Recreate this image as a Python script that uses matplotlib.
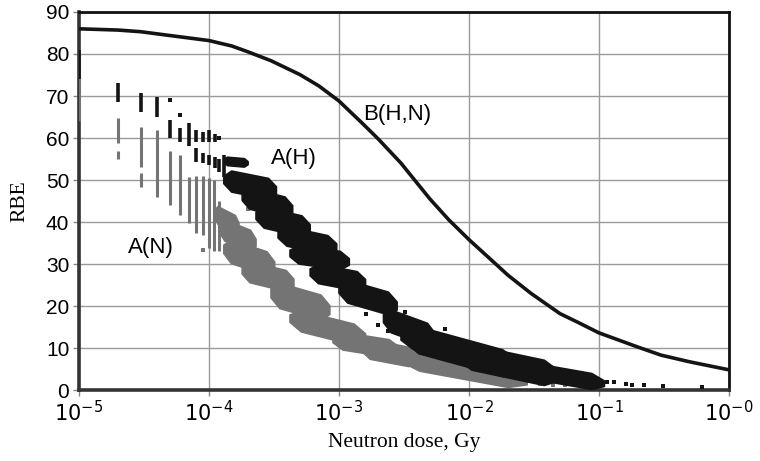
import matplotlib
matplotlib.use("Agg")
import math
import matplotlib.pyplot as plt

# ---------------- data ----------------
# B(H,N) curve
b_dose = [1e-5, 2e-5, 3e-5, 5e-5, 1e-4, 1.5e-4, 2e-4, 3e-4, 5e-4, 7e-4, 1e-3, 1.5e-3, 2e-3,
          3e-3, 5e-3, 7e-3, 1e-2, 2e-2, 3e-2, 5e-2, 7e-2, 1e-1, 2e-1, 3e-1, 5e-1, 1.0]
b_rbe = [86.0, 85.7, 85.3, 84.4, 83.2, 81.9, 80.5, 78.4, 75.1, 72.4, 68.8, 63.6, 59.8,
         54.0, 45.5, 40.5, 35.8, 27.3, 23.0, 18.2, 16.0, 13.6, 10.2, 8.3, 6.7, 4.8]

# A(H) (black) - vertical columns of points at discrete doses: dose, min RBE, max RBE
ah_col_dose = [1e-5, 2e-5, 3e-5, 4e-5, 5e-5, 6e-5, 7e-5, 8e-5, 8e-5, 9e-5, 9e-5,
               1e-4, 1e-4, 1.11e-4, 1.11e-4, 1.2e-4, 1.3e-4]
ah_col_lo = [74.0, 68.6, 66.2, 65.0, 60.0, 59.0, 58.0, 59.0, 54.3, 59.0, 54.0,
             59.0, 53.6, 59.0, 52.8, 52.0, 50.7]
ah_col_hi = [81.0, 73.0, 70.7, 69.8, 64.3, 62.4, 63.6, 62.0, 57.6, 61.4, 56.4,
             61.9, 56.0, 60.9, 55.5, 55.0, 56.0]

# A(H) dense clusters: dose range, RBE at start/end, RBE spread
ah_str_d0 = [1.3e-4, 1.3e-4, 1.8e-4, 2.3e-4, 3.4e-4, 4.2e-4, 6.0e-4, 1.0e-3, 2.2e-3, 3.0e-3, 8.0e-3, 2.5e-2]
ah_str_d1 = [2.0e-4, 3.3e-4, 4.4e-4, 6.0e-4, 9.6e-4, 1.2e-3, 1.6e-3, 2.8e-3, 5.5e-3, 2.5e-2, 5.0e-2, 1.1e-1]
ah_str_r0 = [54.5, 50.0, 46.0, 41.5, 37.0, 32.5, 28.0, 24.0, 17.0, 13.0, 8.5, 5.0]
ah_str_r1 = [54.0, 47.5, 43.0, 38.5, 34.0, 30.5, 25.5, 20.0, 12.5, 5.2, 3.3, 1.5]
ah_str_sp = [2.0, 5.0, 5.0, 5.0, 4.6, 4.4, 4.6, 5.4, 5.4, 6.4, 6.0, 3.8]

# A(H) stray points
ah_pt_dose = [5e-5, 6e-5, 1.2e-4, 1.55e-4, 2.6e-4, 3.0e-4, 4.6e-4, 7.5e-4, 8.5e-4, 1.25e-3,
              1.6e-3, 2.0e-3, 2.4e-3, 3.2e-3, 6.5e-3, 1.15e-1, 1.3e-1, 1.6e-1, 1.8e-1,
              2.2e-1, 3.1e-1, 6.2e-1]
ah_pt_rbe = [69.0, 65.5, 60.0, 51.5, 44.5, 48.0, 36.0, 31.5, 26.5, 21.5,
             18.0, 15.5, 14.0, 18.5, 14.5, 2.0, 1.8, 1.5, 1.2, 1.2, 1.0, 0.8]

# A(N) (grey) - vertical columns
an_col_dose = [1e-5, 2e-5, 2e-5, 3e-5, 3e-5, 4e-5, 5e-5, 6e-5, 7e-5, 8e-5, 9e-5,
               1e-4, 1.1e-4, 1.2e-4]
an_col_lo = [64.0, 58.8, 55.0, 53.0, 48.3, 46.0, 44.0, 41.7, 39.8, 37.4, 37.0,
             33.8, 33.0, 33.0]
an_col_hi = [74.5, 64.8, 57.0, 62.6, 51.6, 62.0, 57.0, 56.0, 50.7, 51.0, 50.9,
             50.5, 50.0, 45.0]

# A(N) dense clusters
an_str_d0 = [1.1e-4, 1.2e-4, 1.3e-4, 1.8e-4, 3.0e-4, 4.2e-4, 9e-4, 1.5e-3, 3.0e-3]
an_str_d1 = [1.7e-4, 2.3e-4, 3.2e-4, 4.5e-4, 8.5e-4, 1.6e-3, 2.9e-3, 4.0e-3, 2.8e-2]
an_str_r0 = [42.0, 38.5, 33.5, 28.5, 23.0, 17.0, 12.0, 10.0, 7.5]
an_str_r1 = [39.0, 35.0, 29.5, 25.5, 19.0, 12.5, 9.5, 7.5, 2.0]
an_str_sp = [4.2, 5.0, 5.6, 5.0, 6.0, 5.0, 4.2, 4.6, 4.4]

# A(N) stray points
an_pt_dose = [9e-5, 1.5e-4, 2.0e-4, 3.6e-4, 6.0e-4, 1.1e-3, 2.2e-3, 3.5e-2, 4.4e-2,
              5.5e-2, 6.6e-2, 8.1e-2]
an_pt_rbe = [33.3, 49.5, 43.0, 27.5, 19.0, 14.5, 11.0, 1.5, 1.2, 1.3, 1.2, 1.0]

x_ticks = [1e-5, 1e-4, 1e-3, 1e-2, 1e-1, 1.0]
x_labels = ["-5", "-4", "-3", "-2", "-1", "-0"]
y_ticks = [0, 10, 20, 30, 40, 50, 60, 70, 80, 90]

# ---------------- style ----------------
plt.rcParams["mathtext.fontset"] = "custom"
plt.rcParams["mathtext.rm"] = "Liberation Sans"
plt.rcParams["mathtext.it"] = "Liberation Sans:italic"
plt.rcParams["mathtext.bf"] = "Liberation Sans:bold"

BLACK = "#141414"
GREY = "#747474"

fig = plt.figure(figsize=(7.6, 4.61), dpi=100)
ax = fig.add_axes([79 / 760, 71 / 461, 650 / 760, 378 / 461])
ax.set_xscale("log")
ax.set_xlim(1e-5, 1.0)
ax.set_ylim(0, 90)

ax.grid(True, which="major", color="#9a9a9a", linewidth=1.0)
ax.minorticks_off()
ax.set_axisbelow(True)

# outline of a cluster: tapered band between its start and end (shape only)
T = [0.0, 0.15, 0.85, 1.0]
W = [0.35, 1.0, 1.0, 0.35]


def draw_streaks(d0, d1, r0, r1, sp, color):
    for a, b, ya, yb, s in zip(d0, d1, r0, r1, sp):
        la, lb = math.log10(a), math.log10(b)
        xs = [10 ** (la + t * (lb - la)) for t in T]
        yc = [ya + t * (yb - ya) for t in T]
        up = [c + w * s / 2 for c, w in zip(yc, W)]
        lo = [c - w * s / 2 for c, w in zip(yc, W)]
        ax.fill(xs + xs[::-1], up + lo[::-1], facecolor=color, edgecolor=color,
                linewidth=1.2, joinstyle="round", zorder=3)


# grey series first (behind black)
ax.vlines(an_col_dose, an_col_lo, an_col_hi, color=GREY, linewidth=2.2, zorder=3)
draw_streaks(an_str_d0, an_str_d1, an_str_r0, an_str_r1, an_str_sp, GREY)
ax.scatter(an_pt_dose, an_pt_rbe, marker="s", s=6, color=GREY, linewidths=0, zorder=3)

ax.vlines(ah_col_dose, ah_col_lo, ah_col_hi, color=BLACK, linewidth=2.6, zorder=4)
draw_streaks(ah_str_d0, ah_str_d1, ah_str_r0, ah_str_r1, ah_str_sp, BLACK)
ax.scatter(ah_pt_dose, ah_pt_rbe, marker="s", s=7, color=BLACK, linewidths=0, zorder=4)

ax.plot(b_dose, b_rbe, color=BLACK, linewidth=2.6, zorder=5, solid_joinstyle="round")

ax.text(2.8e-3, 65.5, "B(H,N)", fontsize=16, family="Liberation Sans",
        ha="center", va="center", zorder=6)
ax.text(4.5e-4, 55.2, "A(H)", fontsize=16, family="Liberation Sans",
        ha="center", va="center", zorder=6)
ax.text(3.6e-5, 34.0, "A(N)", fontsize=16, family="Liberation Sans",
        ha="center", va="center", zorder=6)

ax.set_xticks(x_ticks)
ax.set_xticklabels([r"$\mathregular{10^{%s}}$" % s.replace("-", "\u2212") for s in x_labels],
                   fontsize=15)
ax.set_yticks(y_ticks)
ax.set_yticklabels([str(v) for v in y_ticks], fontsize=15, family="Liberation Sans")
ax.tick_params(axis="both", direction="out", length=4, width=1, color="#888888", pad=3)

for side in ["top", "right"]:
    ax.spines[side].set_linewidth(2.0)
    ax.spines[side].set_color("#111111")
for side in ["left", "bottom"]:
    ax.spines[side].set_linewidth(2.6)
    ax.spines[side].set_color("#333333")

ax.set_xlabel("Neutron dose, Gy", fontsize=15.5, family="Liberation Serif", labelpad=6)
ax.set_ylabel("RBE", fontsize=15.5, family="Liberation Serif", labelpad=12)

fig.savefig("out.png", dpi=100)
